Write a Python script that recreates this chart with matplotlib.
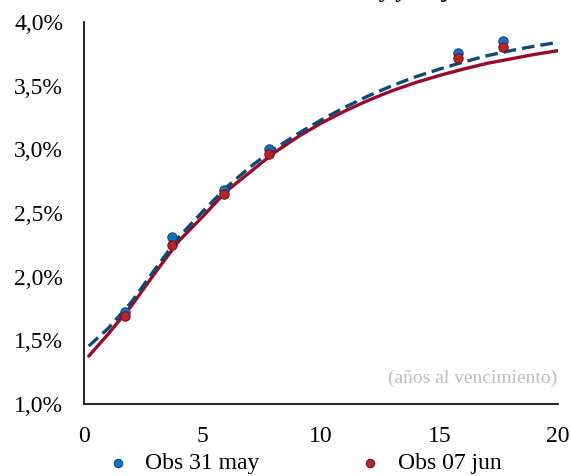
import matplotlib.pyplot as plt
import numpy as np

plt.rcParams['font.family'] = ['Liberation Serif', 'DejaVu Serif']

# observed yields (maturity in years, yield in %)
obs_t = [1.75, 3.7, 5.9, 7.8, 15.8, 17.7]
obs_may = [1.72, 2.31, 2.68, 3.00, 3.76, 3.85]
obs_jun = [1.69, 2.25, 2.65, 2.96, 3.72, 3.80]

# fitted curves
curve_t = [0.2, 1, 2, 3, 4, 5, 6, 7, 8, 9, 10, 11, 12, 13, 14, 15, 16, 17, 18, 19, 20]
curve_may = [1.455, 1.59, 1.80, 2.06, 2.31, 2.51, 2.70, 2.86, 3.00, 3.12, 3.23,
             3.33, 3.42, 3.50, 3.57, 3.63, 3.685, 3.735, 3.775, 3.81, 3.84]
curve_jun = [1.376, 1.545, 1.77, 2.03, 2.28, 2.47, 2.67, 2.82, 2.97, 3.095, 3.205,
             3.30, 3.385, 3.46, 3.525, 3.58, 3.63, 3.675, 3.71, 3.745, 3.775]

yticks = [1.0, 1.5, 2.0, 2.5, 3.0, 3.5, 4.0]
xticks = [0, 5, 10, 15, 20]

fig = plt.figure(figsize=(5.71, 4.76), dpi=100)
ax = fig.add_axes([84/571, 1-404/476, 474/571, 382/476])

ax.plot(curve_t, curve_jun, color='#990A2C', lw=2.4, solid_capstyle='round', zorder=2)
ax.plot(curve_t, curve_may, color='#0E4A78', lw=2.4, ls=(0, (3.8, 1.8)), zorder=3)
ax.scatter(obs_t, obs_may, s=45, color='#1672BE', edgecolor='#0B4A7A', lw=0.8, zorder=4,
           label='Obs 31 may')
ax.scatter(obs_t, obs_jun, s=45, color='#B5282A', edgecolor='#7A1018', lw=0.8, zorder=5,
           label='Obs 07 jun')

ax.set_xlim(0, 20)
ax.set_ylim(1.0, 4.0)
ax.set_xticks(xticks)
ax.set_yticks(yticks)
ax.set_yticklabels([f"{v:.1f}%".replace('.', ',') for v in yticks])
ax.tick_params(length=0, labelsize=17)
ax.tick_params(axis='y', pad=15)
ax.tick_params(axis='x', pad=16)
ax.spines['top'].set_visible(False)
ax.spines['right'].set_visible(False)
for s in ['left', 'bottom']:
    ax.spines[s].set_linewidth(1.2)

ax.text(19.95, 1.2, '(años al vencimiento)', color='#BFBFBF', fontsize=14,
        ha='right', va='center')

fig.legend(loc='center', bbox_to_anchor=(0.534, 1-463/476), ncol=2, frameon=False,
           fontsize=17, handlelength=0.8, handletextpad=0.75, columnspacing=4.3,
           markerscale=0.9, borderpad=0)

fig.text(0.55, 1.04, 'Curva soberana: 31 may y 07 jun', ha='center', va='top',
         fontsize=17, fontweight='bold', style='italic')

fig.savefig('out.png', dpi=100)
